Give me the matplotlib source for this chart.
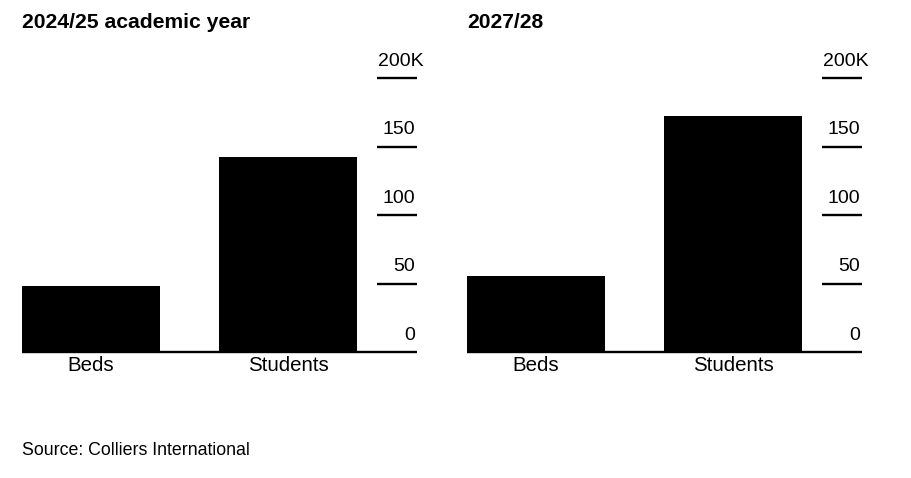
import matplotlib.pyplot as plt

plt.rcParams['font.family'] = ['Liberation Sans', 'DejaVu Sans']

categories = ['Beds', 'Students']
values_2024 = [48.5, 142.5]
values_2027 = [55.8, 172.5]
tick_values = [0, 50, 100, 150, 200]
tick_labels = ['0', '50', '100', '150', '200K']
panel_titles = ['2024/25 academic year', '2027/28']

W, H = 912, 478
fig = plt.figure(figsize=(W / 100, H / 100), dpi=100)

panels = [(22, values_2024, panel_titles[0]), (467, values_2027, panel_titles[1])]
for left_px, vals, title in panels:
    ax = fig.add_axes([left_px / W, (H - 352) / H, 395 / W, (352 - 78.3) / H])
    ax.bar(range(len(categories)), vals, width=0.7, color='black', zorder=2)
    ax.set_xlim(-0.35, 1.655)
    ax.set_ylim(0, 200)
    for s in ax.spines.values():
        s.set_visible(False)
    ax.set_yticks([])
    ax.set_xticks(range(len(categories)))
    ax.set_xticklabels(categories, fontsize=14.8)
    ax.tick_params(axis='x', length=0, pad=3)
    tr = ax.get_yaxis_transform()
    ax.hlines(0, 0, 1, transform=tr, color='black', lw=1.7, zorder=3,
              clip_on=False)
    for v, lab in zip(tick_values, tick_labels):
        if v > 0:
            ax.hlines(v, 0.899, 1, transform=tr, color='black', lw=1.7,
                      clip_on=False)
        if lab.endswith('K'):
            ax.annotate(lab, (0.901, v), xycoords=tr, xytext=(0, 6),
                        textcoords='offset points', ha='left', va='bottom',
                        fontsize=14)
        else:
            ax.annotate(lab, (0.995, v), xycoords=tr, xytext=(0, 6),
                        textcoords='offset points', ha='right', va='bottom',
                        fontsize=14)
    fig.text(left_px / W, (H - 28) / H, title, fontsize=15.2,
             fontweight='bold', ha='left', va='baseline')

fig.text(22 / W, (H - 455) / H, 'Source: Colliers International',
         fontsize=12.8, ha='left', va='baseline')

plt.savefig('out.png', dpi=100)
